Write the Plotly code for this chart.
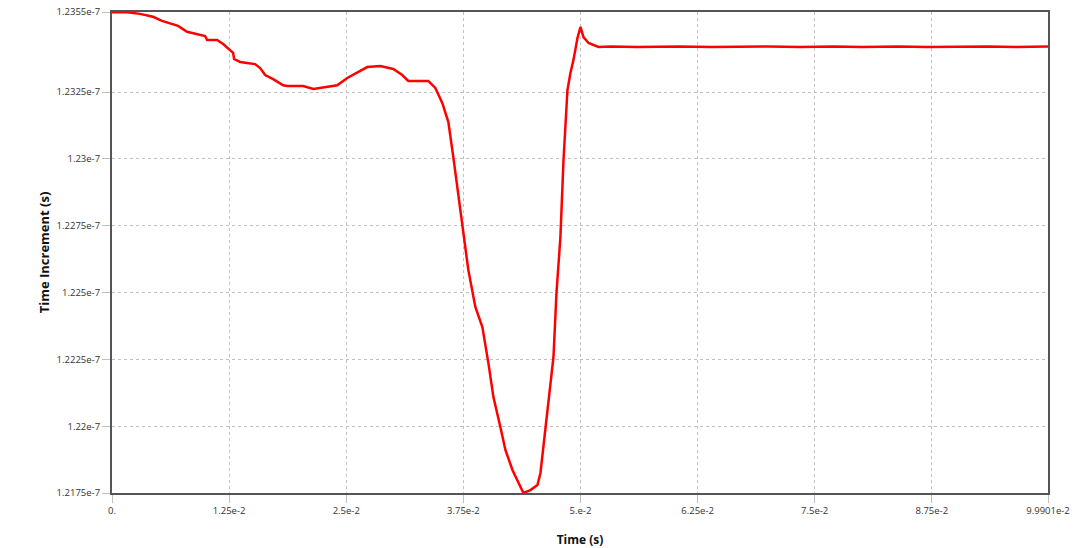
import plotly.graph_objects as go

# Time (s)
time_s = [
    0.0, 0.00160, 0.00299, 0.00438, 0.00534, 0.00620, 0.00705, 0.00801, 0.00908,
    0.00994, 0.01015, 0.01122, 0.01186, 0.01239, 0.01293, 0.01303, 0.01368,
    0.01442, 0.01528, 0.01581, 0.01635, 0.01720, 0.01827, 0.01870, 0.02041,
    0.02148, 0.02297, 0.02404, 0.02511, 0.02628, 0.02724, 0.02863, 0.03002,
    0.03098, 0.03162, 0.03376, 0.03451, 0.03526, 0.03590, 0.03643, 0.03686,
    0.03739, 0.03803, 0.03878, 0.03953, 0.04017, 0.04071, 0.04145, 0.04199,
    0.04274, 0.04359, 0.04391, 0.04466, 0.04541, 0.04573, 0.04626, 0.04658,
    0.04712, 0.04744, 0.04786, 0.04819, 0.04861, 0.04893, 0.04925, 0.04968,
    0.05000, 0.05032, 0.05086, 0.05192, 0.05321, 0.0560, 0.0580, 0.0605,
    0.0640, 0.0670, 0.0700, 0.0735, 0.0770, 0.0800, 0.0840, 0.0870, 0.0900,
    0.0935, 0.0965, 0.0990, 0.099901,
]

# Time increment (units of 1e-7 s)
increment_e7 = [
    1.23549, 1.23549, 1.23543, 1.23532, 1.23517, 1.23508, 1.23498, 1.23476, 1.23467,
    1.23460, 1.23445, 1.23445, 1.23430, 1.23415, 1.23397, 1.23374, 1.23363,
    1.23359, 1.23355, 1.23340, 1.23314, 1.23299, 1.23276, 1.23273, 1.23273,
    1.23262, 1.23269, 1.23276, 1.23303, 1.23325, 1.23344, 1.23348, 1.23337,
    1.23314, 1.23292, 1.23292, 1.23266, 1.23209, 1.23138, 1.23007, 1.22895,
    1.22745, 1.22585, 1.22446, 1.22371, 1.22237, 1.22109, 1.21997, 1.21911,
    1.21836, 1.21769, 1.21750, 1.21761, 1.21780, 1.21825, 1.21986, 1.22072,
    1.22259, 1.22499, 1.22708, 1.22996, 1.23258, 1.23322, 1.23370, 1.23453,
    1.23494, 1.23456, 1.23434, 1.23419, 1.23421, 1.23419, 1.23421, 1.23421,
    1.23419, 1.23421, 1.23421, 1.23419, 1.23421, 1.23419, 1.23421, 1.23419,
    1.23421, 1.23421, 1.23419, 1.23421, 1.23421,
]

x_tick_vals = [0.0, 0.0125, 0.025, 0.0375, 0.05, 0.0625, 0.075, 0.0875, 0.099901]
x_tick_text = ["0.", "1.25e-2", "2.5e-2", "3.75e-2", "5.e-2", "6.25e-2", "7.5e-2", "8.75e-2", "9.9901e-2"]
y_tick_vals_e7 = [1.2175, 1.22, 1.2225, 1.225, 1.2275, 1.23, 1.2325, 1.2355]
y_tick_text = ["1.2175e-7", "1.22e-7", "1.2225e-7", "1.225e-7", "1.2275e-7", "1.23e-7", "1.2325e-7", "1.2355e-7"]

increment = [v * 1e-7 for v in increment_e7]
y_tick_vals = [v * 1e-7 for v in y_tick_vals_e7]

fig = go.Figure()
fig.add_trace(go.Scatter(
    x=time_s, y=increment, mode="lines",
    line=dict(color="#ff0000", width=2.5),
    showlegend=False,
))

axis_common = dict(
    showgrid=True, gridcolor="#c0c0c0", griddash="3px,3px", gridwidth=1,
    showline=True, linecolor="#555555", linewidth=2, mirror=True,
    ticks="outside", ticklen=8, tickcolor="#c0c0c0", tickwidth=1,
    zeroline=False, automargin=False, ticklabeloverflow="allow",
    tickfont=dict(family="Open Sans", size=9.5, color="#333333"),
)

fig.update_layout(
    width=1080, height=548,
    margin=dict(l=112, r=32, t=12, b=55),
    paper_bgcolor="white", plot_bgcolor="white",
    xaxis=dict(
        range=[0, 0.099901], tickvals=x_tick_vals, ticktext=x_tick_text,
        title=dict(text="<b>Time (s)</b>", font=dict(family="Open Sans", size=12, color="#111111"), standoff=19),
        **axis_common,
    ),
    yaxis=dict(
        range=[1.2175e-7, 1.2355e-7], tickvals=y_tick_vals, ticktext=y_tick_text,
        title=dict(text="<b>Time Increment (s)</b>", font=dict(family="Open Sans", size=13, color="#111111"), standoff=4),
        **axis_common,
    ),
)

fig.write_html(
    "out.html",
    config={"displayModeBar": False},
    post_script="document.body.style.margin='0';document.body.style.overflow='hidden';",
)
